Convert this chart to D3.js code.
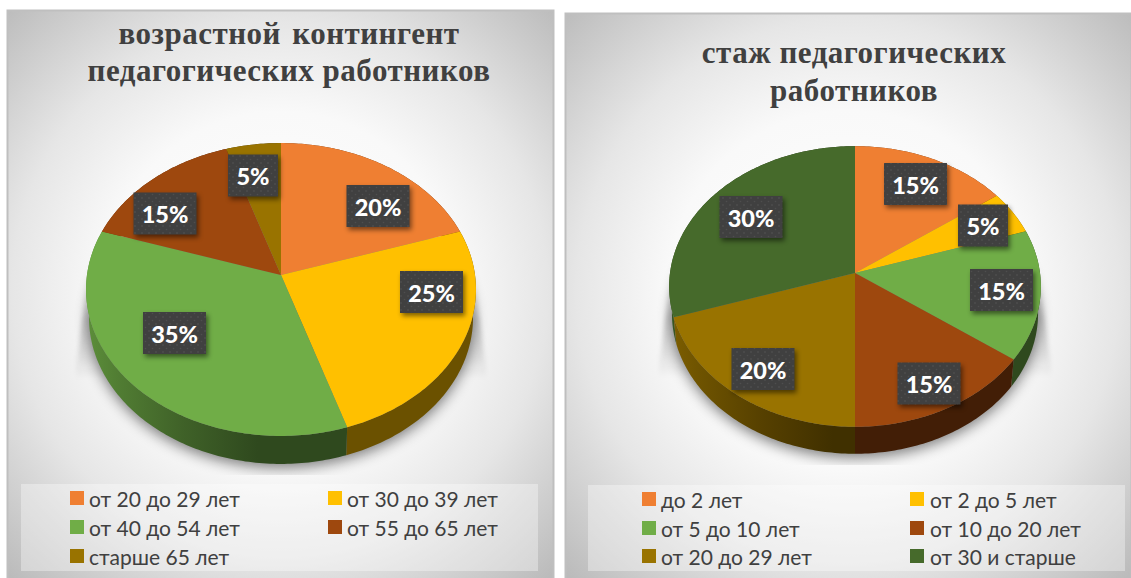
<!DOCTYPE html>
<html><head><meta charset="utf-8">
<script src="https://cdn.jsdelivr.net/npm/d3@7/dist/d3.min.js"></script>
<style>html,body{margin:0;padding:0;background:#fff}svg{display:block}</style>
</head><body><svg id="c" width="1131" height="578"></svg>
<script>
const ageCategories = ["от 20 до 29 лет","от 30 до 39 лет","от 40 до 54 лет","от 55 до 65 лет","старше 65 лет"];
const ageValues = [20,25,35,15,5];
const ageColors = ["#ef7f32","#ffc000","#70ad47","#9e480e","#997300"];
const ageTitle = ["возрастной контингент","педагогических работников"];
const tenureCategories = ["до 2 лет","от 2 до 5 лет","от 5 до 10 лет","от 10 до 20 лет","от 20 до 29 лет","от 30 и старше"];
const tenureValues = [15,5,15,15,20,30];
const tenureColors = ["#ef7f32","#ffc000","#70ad47","#9e480e","#997300","#466a2b"];
const tenureTitle = ["стаж педагогических","работников"];

const layouts = [
 {x:7,y:10,w:546,h:568,cx:281,cy:275,A:194,B:145,k:0.099,depth:28,titleX:289,titleY:[44,81],wordGap:3,
  legend:{x:21,y:484,w:517,h:87,sw:[70,328],tx:[89,347],rows:[491,520,549]},
  labels:[[378,206],[431.5,292],[174.5,333],[165,213.5],[253,175.5]],cut:475},
 {x:565,y:13,w:566,h:565,cx:855,cy:273,A:185,B:139,k:0.096,depth:27,titleX:854,titleY:[63,101],wordGap:0,
  legend:{x:588,y:485,w:537,h:86,sw:[642,910],tx:[661,930],rows:[492,521,549]},
  labels:[[915.5,184],[983,225.5],[1001.5,290],[929,383.5],[763,369],[751,217]],cut:465}
];
const charts = [
 {cats:ageCategories,vals:ageValues,cols:ageColors,title:ageTitle,lay:layouts[0]},
 {cats:tenureCategories,vals:tenureValues,cols:tenureColors,title:tenureTitle,lay:layouts[1]}
];

const svg = d3.select("#c");
const defs = svg.append("defs");
const blur = (id,s)=>defs.append("filter").attr("id",id).attr("x","-30%").attr("y","-30%").attr("width","160%").attr("height","160%")
   .append("feGaussianBlur").attr("stdDeviation",s);
blur("b8",7); blur("b3",2.5); blur("b2",2);
const pat = defs.append("pattern").attr("id","dots").attr("width",7).attr("height",7).attr("patternUnits","userSpaceOnUse");
pat.append("rect").attr("width",7).attr("height",7).attr("fill","#404040");
pat.append("circle").attr("cx",2).attr("cy",2).attr("r",0.8).attr("fill","#535353");
pat.append("circle").attr("cx",5.5).attr("cy",5.5).attr("r",0.8).attr("fill","#4e4e4e");

const line = d3.line();
charts.forEach((ch,ci)=>{
  const L = ch.lay, g = svg.append("g");
  const gx=L.x+L.w/2, gy=L.y+L.h/2-5;
  const rg = defs.append("radialGradient").attr("id","bg"+ci).attr("gradientUnits","userSpaceOnUse")
    .attr("cx",gx).attr("cy",gy).attr("r",Math.hypot(L.w,L.h)/2);
  [[0,"#ffffff"],[0.45,"#f9f9f9"],[0.68,"#e6e6e6"],[1,"#bbbbbb"]].forEach(([o,c])=>rg.append("stop").attr("offset",o).attr("stop-color",c));
  g.append("rect").attr("x",L.x+.5).attr("y",L.y+.5).attr("width",L.w).attr("height",L.h+2)
    .attr("fill",`url(#bg${ci})`).attr("stroke","#bfbfbf").attr("stroke-width",2);

  const uScale = d3.scaleLinear().domain([-1,1]).range([L.cx-L.A,L.cx+L.A]);
  const vScale = d3.scaleLinear().domain([-1,1]).range([L.cy-L.B,L.cy+L.B]);
  const proj = (a,r=1)=>{const u=r*Math.sin(a),v=-r*Math.cos(a),s=1/(1-L.k*v);
    return [L.cx+(uScale(u)-L.cx)*s, L.cy+(vScale(v)-L.cy)*s];};
  const low = (a)=>{const p=proj(a);return [L.cx+(p[0]-L.cx)*0.985,p[1]+L.depth];};
  const arc = (a,b,f)=>d3.range(0,1.0001,1/Math.max(4,Math.ceil((b-a)*60))).map(t=>f(a+(b-a)*t));
  const all = arc(0,2*Math.PI,low);

  // shadow
  defs.append("clipPath").attr("id","cut"+ci).append("rect").attr("x",L.x).attr("y",L.y).attr("width",L.w).attr("height",L.cut-L.y);
  const sg = g.append("g").attr("clip-path",`url(#cut${ci})`);
  const cone = defs.append("linearGradient").attr("id","cone"+ci).attr("x1",0).attr("x2",0).attr("y1",0).attr("y2",1);
  [[0,.0],[.4,.17],[.75,.09],[1,.0]].forEach(([o,a])=>cone.append("stop").attr("offset",o).attr("stop-color","#000").attr("stop-opacity",a));
  const coneTop=L.cy+5, coneBot=L.cy+105;
  sg.append("path").attr("fill",`url(#cone${ci})`).attr("filter","url(#b2)")
    .attr("d",line([[L.cx-L.A,coneTop],[L.cx-L.A-11,coneBot-10],[L.cx-L.A-11,coneBot],[L.cx+L.A+11,coneBot],[L.cx+L.A+11,coneBot-10],[L.cx+L.A,coneTop]])+"Z");
  sg.append("path").attr("fill","#000").attr("opacity",.5).attr("filter","url(#b8)")
    .attr("d",line(all.map(([x,y])=>[x,y+4]))+"Z");

  const arcs = d3.pie().sort(null)(ch.vals);
  // sides
  const order = arcs.map((a,i)=>({a,i})).sort((p,q)=>Math.abs(Math.PI-(p.a.startAngle+p.a.endAngle)/2)<Math.abs(Math.PI-(q.a.startAngle+q.a.endAngle)/2)?1:-1);
  order.forEach(({a,i})=>{
    const id=`side${ci}_${i}`, c=d3.color(ch.cols[i]);
    const lg=defs.append("linearGradient").attr("id",id).attr("gradientUnits","userSpaceOnUse")
      .attr("x1",L.cx-L.A).attr("x2",L.cx+L.A).attr("y1",0).attr("y2",0);
    [[0,.82],[.08,.72],[.25,.56],[.44,.42],[1,.42]].forEach(([o,f])=>lg.append("stop").attr("offset",o)
      .attr("stop-color",d3.rgb(c.r*f,c.g*f,c.b*f).formatHex()));
    const top=arc(a.startAngle,a.endAngle,proj), bot=arc(a.startAngle,a.endAngle,low).reverse();
    g.append("path").attr("d",line(top.concat(bot))+"Z").attr("fill",`url(#${id})`);
  });
  // top face
  arcs.forEach((a,i)=>{
    const pts=[[L.cx,L.cy]].concat(arc(a.startAngle,a.endAngle,proj));
    g.append("path").attr("d",line(pts)+"Z").attr("fill",ch.cols[i]);
  });
  // labels
  arcs.forEach((a,i)=>{
    const [x,y]=L.labels[i], pct=Math.round(100*(a.endAngle-a.startAngle)/(2*Math.PI))+"%";
    const w=ch.vals[i]<10?50:63, h=42;
    g.append("rect").attr("x",x-w/2+2).attr("y",y-h/2+3).attr("width",w).attr("height",h).attr("fill","#000").attr("opacity",.5).attr("filter","url(#b3)");
    g.append("rect").attr("x",x-w/2).attr("y",y-h/2).attr("width",w).attr("height",h).attr("fill","url(#dots)");
    g.append("text").attr("x",x).attr("y",y+9.5).attr("text-anchor","middle").attr("fill","#fff")
      .attr("font-family","Lato, 'Open Sans', sans-serif").attr("font-weight",900).attr("font-size",23.5).text(pct);
  });
  // title
  ch.title.forEach((t,i)=>{
    g.append("text").attr("x",L.titleX).attr("y",L.titleY[i]).attr("text-anchor","middle")
     .attr("font-family","'Liberation Serif', serif").attr("font-weight",700).attr("font-size",31).attr("fill","#404040").attr("letter-spacing",0.5)
     .attr("word-spacing",i===0?L.wordGap:0).text(t);
  });
  // legend
  const LG=L.legend;
  g.append("rect").attr("x",LG.x).attr("y",LG.y).attr("width",LG.w).attr("height",LG.h).attr("fill","#fff").attr("opacity",.35);
  ch.cats.forEach((c,i)=>{
    const col=i%2,row=Math.floor(i/2);
    g.append("rect").attr("x",LG.sw[col]).attr("y",LG.rows[row]).attr("width",14).attr("height",14).attr("fill",ch.cols[i]);
    g.append("text").attr("x",LG.tx[col]).attr("y",LG.rows[row]+16).attr("font-family","Lato, sans-serif").attr("font-size",21).attr("fill","#404040").text(c);
  });
});
</script></body></html>
